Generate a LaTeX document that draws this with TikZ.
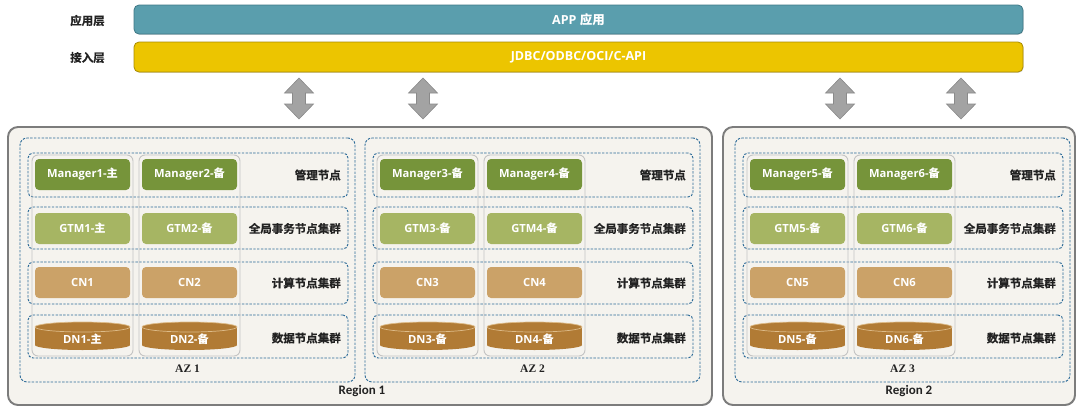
\documentclass[tikz,border=0pt]{standalone}
\usepackage{fontspec}
\setmainfont{Open Sans}
\newfontfamily\cjkfont{Noto Sans CJK SC Bold}
\newfontfamily\cjkheavy{Noto Sans CJK SC Bold}[FakeBold=0.7]
\newfontfamily\azfont{Liberation Serif}
\newfontfamily\regfont{Carlito}
\newcommand\zh[1]{{\cjkfont #1}}
\usetikzlibrary{calc,shadows}
\definecolor{regfill}{HTML}{F5F3EE}
\definecolor{regline}{HTML}{7C7C7C}
\definecolor{appfill}{HTML}{5A9EAD}
\definecolor{appline}{HTML}{3E7886}
\definecolor{jdbcfill}{HTML}{ECC500}
\definecolor{jdbcline}{HTML}{A88B00}
\definecolor{mgrfill}{HTML}{76943A}
\definecolor{gtmfill}{HTML}{A6B563}
\definecolor{cnfill}{HTML}{CBA268}
\definecolor{dnfill}{HTML}{B17B35}
\definecolor{dnline}{HTML}{DDBB88}
\definecolor{azblue}{HTML}{2B6A97}
\definecolor{colline}{HTML}{C4C4C4}
\definecolor{arrfill}{HTML}{A3A3A3}
\definecolor{arrline}{HTML}{8A8A8A}
\definecolor{txt}{HTML}{222222}
\tikzset{
  region/.style={draw=regline, line width=1.9pt, fill=regfill, rounded corners=10pt,
    inner sep=0pt, outer sep=0pt, drop shadow={shadow xshift=0.8pt, shadow yshift=-0.8pt, opacity=0.35}},
  bar/.style={line width=0.8pt, rounded corners=5pt, inner sep=0pt, outer sep=0pt,
    text=white, font=\bfseries\fontsize{12.5pt}{14pt}\selectfont,
    drop shadow={shadow xshift=0.6pt, shadow yshift=-0.8pt, opacity=0.3}},
  dashbox/.style={draw=azblue, line width=0.95pt, dash pattern=on 2.4pt off 1.4pt, inner sep=0pt, outer sep=0pt},
  azbox/.style={dashbox, rounded corners=7pt},
  rowbox/.style={dashbox, rounded corners=5pt},
  colbox/.style={draw=colline, line width=0.9pt, rounded corners=6pt, inner sep=0pt, outer sep=0pt},
  nodebox/.style={minimum width=95pt, minimum height=31pt, inner sep=0pt, outer sep=0pt,
    rounded corners=4pt, text=white, font=\bfseries\fontsize{11.2pt}{13pt}\selectfont},
  mgr/.style={nodebox, fill=mgrfill},
  gtm/.style={nodebox, fill=gtmfill},
  cn/.style={nodebox, fill=cnfill},
  dn/.style={nodebox, minimum height=22pt},
  rowlabel/.style={anchor=east, inner sep=0pt, text=txt, font=\cjkheavy\fontsize{11.5pt}{13pt}\selectfont},
  toplabel/.style={inner sep=0pt, text=txt, font=\cjkheavy\fontsize{11.5pt}{13pt}\selectfont},
  azlabel/.style={inner sep=0pt, text=txt, font=\azfont\bfseries\fontsize{11.5pt}{13pt}\selectfont},
  reglabel/.style={inner sep=0pt, text=txt, font=\regfont\bfseries\fontsize{13pt}{15pt}\selectfont},
  arrowshape/.style={fill=arrfill, draw=arrline, line width=0.6pt, line join=miter},
  updown/.pic={\draw[arrowshape] (0,-20.5) -- (14.5,-5.5) -- (6.5,-5.5) -- (6.5,5.5) -- (14.5,5.5)
     -- (0,20.5) -- (-14.5,5.5) -- (-6.5,5.5) -- (-6.5,-5.5) -- (-14.5,-5.5) -- cycle;}
}
\begin{document}
\begin{tikzpicture}[x=1pt,y=-1pt]
\useasboundingbox[fill=white] (0,0) rectangle (1077,407);
% top bars
\node[bar, fill=appfill, draw=appline, minimum width=889pt, minimum height=29pt] (app) at (578.5,19.5) {APP \zh{应用}};
\node[bar, fill=jdbcfill, draw=jdbcline, minimum width=889pt, minimum height=30pt] (jdbc) at (578.5,57) {JDBC/ODBC/OCI/C-API};
\node[toplabel] (lapp) at (87.5,20.5) {应用层};
\node[toplabel] (ljdbc) at (87.5,57.5) {接入层};
% arrows
\pic (ar1) at (299,98.5) {updown};
\pic (ar2) at (423,98.5) {updown};
\pic (ar3) at (840,98.5) {updown};
\pic (ar4) at (961,98.5) {updown};
% regions
\node[region, minimum width=704pt, minimum height=278pt] (r1) at (360,266) {};
\node[region, minimum width=352pt, minimum height=278pt] (r2) at (899,266) {};
\node[reglabel] (rl1) at (362,391.5) {Region 1};
\node[reglabel] (rl2) at (909,391.5) {Region 2};
% AZ blocks
\foreach \dx/\a/\b/\sa/\sb/\az in {0/1/2/主/备/1, 345/3/4/备/备/2, 715/5/6/备/备/3}{
  \node[azbox, minimum width=335pt, minimum height=244pt] (az\az) at (\dx+187.5,260) {};
  \node[azlabel] (azl\az) at (\dx+187.5,369) {AZ \az};
  \node[rowbox, minimum width=320pt, minimum height=44pt] (rowm\az) at (\dx+188,175) {};
  \node[rowbox, minimum width=320pt, minimum height=42pt] (rowg\az) at (\dx+188,228) {};
  \node[rowbox, minimum width=320pt, minimum height=42pt] (rowc\az) at (\dx+188,283) {};
  \node[rowbox, minimum width=320pt, minimum height=43pt] (rowd\az) at (\dx+188,336.5) {};
  \node[colbox, minimum width=101pt, minimum height=201pt] (cola\az) at (\dx+82.5,255.5) {};
  \node[colbox, minimum width=101pt, minimum height=201pt] (colb\az) at (\dx+189.5,255.5) {};
  \node[mgr] (mgr\a) at (\dx+82.5,174.5) {Manager\a-\zh{\sa}};
  \node[mgr] (mgr\b) at (\dx+189.5,174.5) {Manager\b-\zh{\sb}};
  \node[gtm] (gtm\a) at (\dx+82.5,228.5) {GTM\a-\zh{\sa}};
  \node[gtm] (gtm\b) at (\dx+189.5,228.5) {GTM\b-\zh{\sb}};
  \node[cn] (cn\a) at (\dx+82.5,282.5) {CN\a};
  \node[cn] (cn\b) at (\dx+189.5,282.5) {CN\b};
  \foreach \cx in {82.5,189.5}{
    \fill[dnfill] (\dx+\cx,345) ellipse [x radius=47.5pt, y radius=5pt];
    \fill[dnfill] (\dx+\cx-47.5,327) rectangle (\dx+\cx+47.5,345);
    \fill[dnfill] (\dx+\cx,327) ellipse [x radius=47.5pt, y radius=5pt];
    \draw[dnline, line width=0.7pt] (\dx+\cx,327) ellipse [x radius=47.5pt, y radius=5pt];
  }
  \node[dn] (dn\a) at (\dx+82.5,339) {DN\a-\zh{\sa}};
  \node[dn] (dn\b) at (\dx+189.5,339) {DN\b-\zh{\sb}};
  \node[rowlabel] (lm\az) at (\dx+341,175) {管理节点};
  \node[rowlabel] (lg\az) at (\dx+341,228.5) {全局事务节点集群};
  \node[rowlabel] (lc\az) at (\dx+341,283) {计算节点集群};
  \node[rowlabel] (ld\az) at (\dx+341,338) {数据节点集群};
}
\end{tikzpicture}
\end{document}
